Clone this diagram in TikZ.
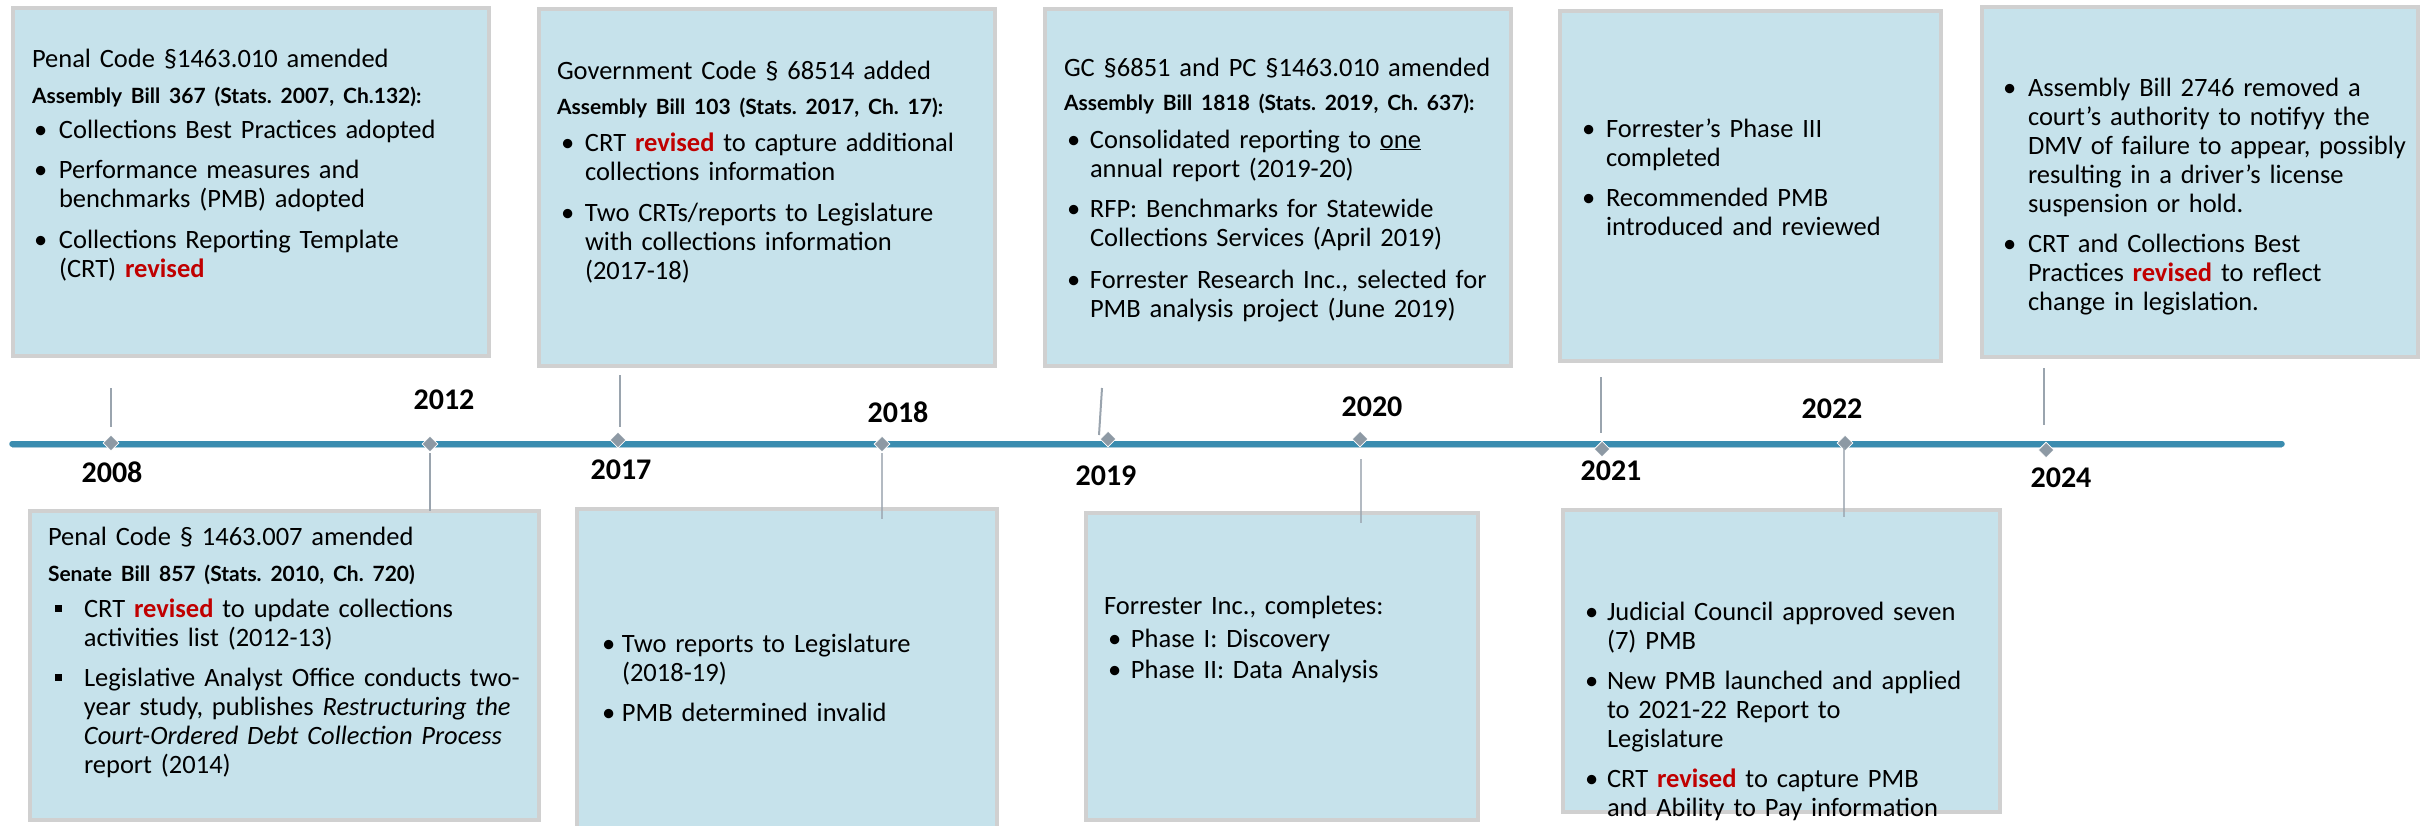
\documentclass[tikz,border=0pt]{standalone}
\usepackage{fontspec}
\setmainfont{Carlito}
\newfontfamily\billfont{Lato}
\usetikzlibrary{shapes.geometric,calc}

\definecolor{boxfill}{HTML}{C6E2EB}
\definecolor{boxline}{HTML}{D0D0D0}
\definecolor{teal}{HTML}{3A8CAF}
\definecolor{tealedge}{HTML}{A9C9D8}
\definecolor{diagray}{HTML}{8D99A4}
\definecolor{conngray}{HTML}{9AA4AE}
\definecolor{revred}{HTML}{C00000}

\frenchspacing

% bullet item: #1 bullet offset, #2 hanging indent, #3 text (lines split with \newline)
\newcommand\entry[3]{\par\hangindent=#2pt\hangafter=1\noindent
  \makebox[#2pt][l]{\hspace{#1pt}\textbullet}#3\par}
\newcommand\sqentry[3]{\par\hangindent=#2pt\hangafter=1\noindent
  \makebox[#2pt][l]{\hspace{#1pt}\rule[5pt]{7pt}{7pt}}#3\par}
\newcommand\gap[1]{\vspace{#1pt}}
\newcommand\rev{\textcolor{revred}{\textbf{revised}}}
\newcommand\billline[1]{{\billfont\fontsize{21}{29}\selectfont\bfseries #1\par}}

\begin{document}
\begin{tikzpicture}[x=1pt,y=-1pt,
  box/.style={rectangle, fill=boxfill, draw=boxline, line width=4pt,
    inner sep=0pt, outer sep=0pt, anchor=north west},
  txt/.style={anchor=base west, inner sep=0pt, outer sep=0pt, text width=#1pt,
    font=\fontsize{26.5}{29}\selectfont},
  yr/.style={inner sep=0pt, font=\fontsize{30}{36}\selectfont\bfseries},
  dia/.style={diamond, fill=diagray, draw=white, line width=0.8pt,
    minimum width=16pt, minimum height=16pt, inner sep=0pt},
  conn/.style={draw=conngray, line width=2pt},
  connin/.style={draw=conngray, line width=2pt, draw opacity=0.75}]

\useasboundingbox (0,0) rectangle (2422,825);
\fill[white] (0,0) rectangle (2422,825);

% ---- timeline axis ----
\coordinate (axisA) at (12,444);
\coordinate (axisB) at (2282,444);
\draw[teal, line width=5.5pt, line cap=round] (axisA) -- (axisB);
\draw[tealedge, line width=1.2pt] ($(axisA)+(0,3.2)$) -- ($(axisB)+(0,3.2)$);

% ---- event boxes ----
\node[box, minimum width=476pt, minimum height=348pt] (b1) at (13,8) {};
\node[box, minimum width=456pt, minimum height=357pt] (b2) at (539,9) {};
\node[box, minimum width=466pt, minimum height=357pt] (b3) at (1045,9) {};
\node[box, minimum width=381pt, minimum height=350pt] (b4) at (1560,11) {};
\node[box, minimum width=436pt, minimum height=350pt] (b5) at (1982,7) {};
\node[box, minimum width=509pt, minimum height=309pt] (b6) at (30,511) {};
\node[box, minimum width=420pt, minimum height=330pt] (b7) at (577,509) {};
\node[box, minimum width=392pt, minimum height=307pt] (b8) at (1086,513) {};
\node[box, minimum width=437pt, minimum height=302pt] (b9) at (1563,510) {};

% ---- milestones ----
\node[dia] (d2008) at (111,443) {};
\node[dia] (d2012) at (430,444) {};
\node[dia] (d2017) at (618,440) {};
\node[dia] (d2018) at (882,444) {};
\node[dia] (d2019) at (1108,439) {};
\node[dia] (d2020) at (1360,439) {};
\node[dia] (d2021) at (1602,449) {};
\node[dia] (d2022) at (1845,443) {};
\node[dia] (d2024) at (2046,450) {};

% upper ends of the rising connectors
\coordinate (t2008) at (111,388);
\coordinate (t2017) at (620,375);
\coordinate (t2019) at (1102,388);
\coordinate (t2021) at (1601,377);
\coordinate (t2024) at (2044,368);

\draw[conn] ($(d2008.north)+(0,-8)$) -- (t2008);
\draw[conn] ($(d2017.north)+(2,-5)$) -- (t2017);
\draw[conn] ($(d2019.center)+(-9,-4)$) -- (t2019);
\draw[conn] ($(d2021.north)+(-1,-8)$) -- (t2021);
\draw[conn] ($(d2024.north)+(-2,-17)$) -- (t2024);

\draw[conn] ($(d2012.south)+(0,1)$) -- (b6.north -| d2012);
\draw[connin] ($(d2018.south)+(0,1)$) -- ($(b7.north -| d2018)+(0,10)$);
\draw[connin] ($(d2020.south)+(1,12)$) -- ($(b8.north -| d2020)+(1,10)$);
\draw[connin] ($(d2022.south)+(-1,-4)$) -- ($(b9.north -| d2022)+(-1,7)$);

% ---- year labels ----
\node[yr] (y2008) at (112,472) {2008};
\node[yr] (y2012) at (444,400) {2012};
\node[yr] (y2017) at (621,470) {2017};
\node[yr] (y2018) at (898,412) {2018};
\node[yr] (y2019) at (1106,476) {2019};
\node[yr] (y2020) at (1372,407) {2020};
\node[yr] (y2021) at (1611,471) {2021};
\node[yr] (y2022) at (1832,409) {2022};
\node[yr] (y2024) at (2061,478) {2024};

% ---- box texts ----
\node[txt=455] (x1) at (32,67) {%
  Penal Code §1463.010 amended\par
  \gap{7}\billline{Assembly Bill 367 (Stats. 2007, Ch.132):}
  \gap{6}\entry{2}{27}{Collections Best Practices adopted}
  \gap{11}\entry{2}{27}{Performance measures and\newline benchmarks (PMB) adopted}
  \gap{12}\entry{2}{27}{Collections Reporting Template\newline (CRT) \rev}};

\node[txt=435] (x2) at (557,79) {%
  Government Code § 68514 added\par
  \gap{6}\billline{Assembly Bill 103 (Stats. 2017, Ch. 17):}
  \gap{8}\entry{4}{28}{CRT \rev{} to capture additional\newline collections information}
  \gap{12}\entry{4}{28}{Two CRTs/reports to Legislature\newline with collections information\newline (2017-18)}};

\node[txt=448] (x3) at (1064,76) {%
  GC §6851 and PC §1463.010 amended\par
  \gap{5}\billline{Assembly Bill 1818 (Stats. 2019, Ch. 637):}
  \gap{9}\entry{3}{26}{Consolidated reporting to \underline{one}\newline annual report (2019-20)}
  \gap{11}\entry{3}{26}{RFP: Benchmarks for Statewide\newline Collections Services (April 2019)}
  \gap{13}\entry{3}{26}{Forrester Research Inc., selected for\newline PMB analysis project (June 2019)}};

\node[txt=355] (x4) at (1582,108) {%
  \entry{0}{24}{Forrester’s Phase III\newline completed}
  \gap{11}\entry{0}{24}{Recommended PMB\newline introduced and reviewed}};

\node[txt=415] (x5) at (2003,67) {%
  \entry{0}{25}{Assembly Bill 2746 removed a\newline court’s authority to notifyy the\newline DMV of failure to appear, possibly\newline resulting in a driver’s license\newline suspension or hold.}
  \gap{11}\entry{0}{25}{CRT and Collections Best\newline Practices \rev{} to reflect\newline change in legislation.}};

\node[txt=490] (x6) at (48,545) {%
  Penal Code § 1463.007 amended\par
  \gap{7}\billline{Senate Bill 857 (Stats. 2010, Ch. 720)}
  \gap{7}\sqentry{7}{36}{CRT \rev{} to update collections\newline activities list (2012-13)}
  \gap{11}\sqentry{7}{36}{Legislative Analyst Office conducts two-\newline year study, publishes \textit{Restructuring the}\newline \textit{Court-Ordered Debt Collection Process}\newline report (2014)}};

\node[txt=390] (x7) at (602,623) {%
  \entry{0}{20}{Two reports to Legislature\newline (2018-19)}
  \gap{11}\entry{0}{20}{PMB determined invalid}};

\node[txt=370] (x8) at (1104,614) {%
  Forrester Inc., completes:\par
  \gap{4}\entry{4}{27}{Phase I: Discovery}
  \gap{2}\entry{4}{27}{Phase II: Data Analysis}};

\node[txt=415] (x9) at (1585,591) {%
  \entry{0}{22}{Judicial Council approved seven\newline (7) PMB}
  \gap{11}\entry{0}{22}{New PMB launched and applied\newline to 2021-22 Report to\newline Legislature}
  \gap{11}\entry{0}{22}{CRT \rev{} to capture PMB\newline and Ability to Pay information}};

\end{tikzpicture}
\end{document}
